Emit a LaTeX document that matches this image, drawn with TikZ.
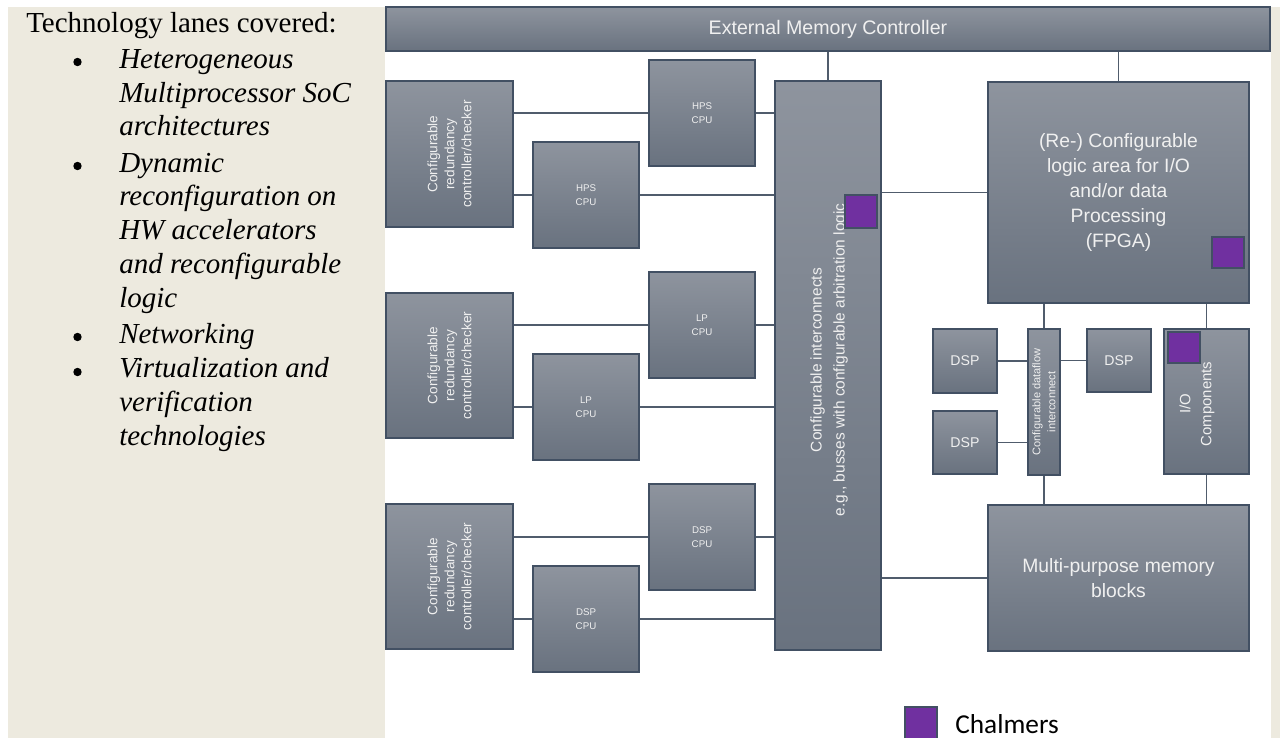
\documentclass[tikz,border=0pt]{standalone}
\usepackage{fontspec}
\setmainfont{Liberation Serif}
\newfontfamily\boxfont{Liberation Sans}
\newfontfamily\legendfont{Carlito}
\definecolor{panel}{RGB}{237,234,223}
\definecolor{blktop}{RGB}{142,148,158}
\definecolor{blkbot}{RGB}{105,114,127}
\definecolor{edgecol}{RGB}{66,80,99}
\definecolor{wirecol}{RGB}{80,92,108}
\definecolor{blktext}{RGB}{240,240,240}
\definecolor{chalmers}{RGB}{112,48,160}
\tikzset{
  blk/.style={draw=edgecol, line width=1.1pt, top color=blktop, bottom color=blkbot,
    inner sep=0pt, text=blktext, align=center, font=\boxfont},
  sz/.style 2 args={minimum width=#1*0.75pt, minimum height=#2*0.75pt},
  lbl/.style={text=blktext, align=center, inner sep=0pt},
  wire/.style={draw=wirecol, line width=1pt},
  chalbox/.style={draw=edgecol, line width=0.9pt, fill=chalmers, inner sep=0pt},
  fs/.style 2 args={font=\boxfont\fontsize{#1}{#2}\selectfont},
  % multi-line items are anchored on the baseline of their last line
  itemtext/.style={anchor=base west, inner sep=0pt, align=left,
    font=\itshape\fontsize{21.75}{25.3}\selectfont},
}
\begin{document}
\begin{tikzpicture}[x=0.75pt,y=-0.75pt]
\useasboundingbox (0,0) rectangle (1280,738);
\fill[white] (0,0) rectangle (1280,738);
% side panels
\fill[panel] (8,7) rectangle (385,738);
\fill[panel] (1271,7) rectangle (1280,738);

% list of technology lanes
\node[anchor=base west, inner sep=0pt, font=\fontsize{21.75}{25.5}\selectfont] (title) at (26,33) {Technology lanes covered:};
\node[itemtext] (it1) at (119,136) {Heterogeneous\\Multiprocessor SoC\\architectures};
\node[itemtext] (it2) at (119,307) {Dynamic\\reconfiguration on\\HW accelerators\\and reconfigurable\\logic};
\node[itemtext] (it3) at (119,343) {Networking};
\node[itemtext] (it4) at (119,445) {Virtualization and\\verification\\technologies};
\foreach \yy in {62,166,337,372} \fill (77.5,\yy) circle (4.2);

% top bar
\node[blk, sz={884}{44}, fs={14.7}{18}] (emc) at (828,29) {External Memory Controller};

% redundancy controllers
\node[blk, sz={127}{146}] (red1) at (449.5,154) {};
\node[blk, sz={127}{145}] (red2) at (449.5,365.5) {};
\node[blk, sz={127}{145}] (red3) at (449.5,576.5) {};
\foreach \r in {red1,red2,red3}
  \node[lbl, rotate=90, fs={10.2}{12.75}] (\r txt) at (\r) {Configurable\\redundancy\\controller/checker};

% processor pairs
\node[blk, sz={106}{106}, fs={7.3}{10.5}] (hps1) at (702,113) {HPS\\CPU};
\node[blk, sz={106}{106}, fs={7.3}{10.5}] (hps2) at (586,195) {HPS\\CPU};
\node[blk, sz={106}{106}, fs={7.3}{10.5}] (lp1) at (702,325) {LP\\CPU};
\node[blk, sz={106}{106}, fs={7.3}{10.5}] (lp2) at (586,407) {LP\\CPU};
\node[blk, sz={106}{106}, fs={7.3}{10.5}] (dc1) at (702,537) {DSP\\CPU};
\node[blk, sz={106}{106}, fs={7.3}{10.5}] (dc2) at (586,619) {DSP\\CPU};

% central interconnect
\node[blk, sz={106}{569}] (ic) at (828,365.5) {};
\node[lbl, rotate=90, fs={11.6}{17.25}] (ictxt) at (829,360) {Configurable interconnects\\e.g., busses with configurable arbitration logic};

% right-hand blocks
\node[blk, sz={261}{221}, fs={14.5}{18.75}] (fpga) at (1118.5,192.5) {(Re-) Configurable\\logic area for I/O\\and/or data\\Processing\\(FPGA)};
\node[blk, sz={64}{64}, fs={10.6}{13}] (dsp1) at (965,361) {DSP};
\node[blk, sz={64}{63}, fs={10.6}{13}] (dsp2) at (965,442.5) {DSP};
\node[blk, sz={64}{63}, fs={10.6}{13}] (dsp3) at (1119,360.5) {DSP};
\node[blk, sz={32}{146}] (df) at (1044,402) {};
\node[lbl, rotate=90, fs={8.3}{11.25}] (dftxt) at (df) {Configurable dataflow\\interconnect};
\node[blk, sz={85}{145}] (io) at (1206.5,401.5) {};
\node[lbl, rotate=90, fs={11.2}{15.75}] (iotxt) at (1197,404) {I/O\\Components};
\node[blk, sz={261}{146}, fs={14.5}{18.75}] (mem) at (1118.5,578) {Multi-purpose memory\\blocks};

% Chalmers markers
\node[chalbox, sz={32}{33}] (ch1) at (861,211.5) {};
\node[chalbox, sz={32}{31}] (ch2) at (1228,252.5) {};
\node[chalbox, sz={32}{31}] (ch3) at (1184,347.5) {};

% connections
\draw[wire] (ic.north) -- (ic.north |- emc.south);
\draw[wire] (fpga.north) -- (fpga.north |- emc.south);
\foreach \r/\a/\b in {red1/hps1/hps2, red2/lp1/lp2, red3/dc1/dc2} {
  \draw[wire] (\a.west -| \r.east) -- (\a.west);
  \draw[wire] (\a.east) -- (\a.east -| ic.west);
  \draw[wire] (\b.west -| \r.east) -- (\b.west);
  \draw[wire] (\b.east) -- (\b.east -| ic.west);
}
\draw[wire] (fpga.west -| ic.east) -- (fpga.west);
\draw[wire] (mem.west -| ic.east) -- (mem.west);
\draw[wire] (df.north) -- (df.north |- fpga.south);
\draw[wire] (io.north) -- (io.north |- fpga.south);
\draw[wire] (df.south) -- (df.south |- mem.north);
\draw[wire] (io.south) -- (io.south |- mem.north);
\draw[wire] (dsp1.east) -- (dsp1.east -| df.west);
\draw[wire] (dsp2.east) -- (dsp2.east -| df.west);
\draw[wire] (dsp3.west) -- (dsp3.west -| df.east);

% legend
\node[chalbox, sz={32}{32}] (legbox) at (921,723) {};
\node[anchor=base west, inner sep=0pt, font=\legendfont\fontsize{20.5}{24}\selectfont] (legtxt) at (955,733) {Chalmers};
\end{tikzpicture}
\end{document}
